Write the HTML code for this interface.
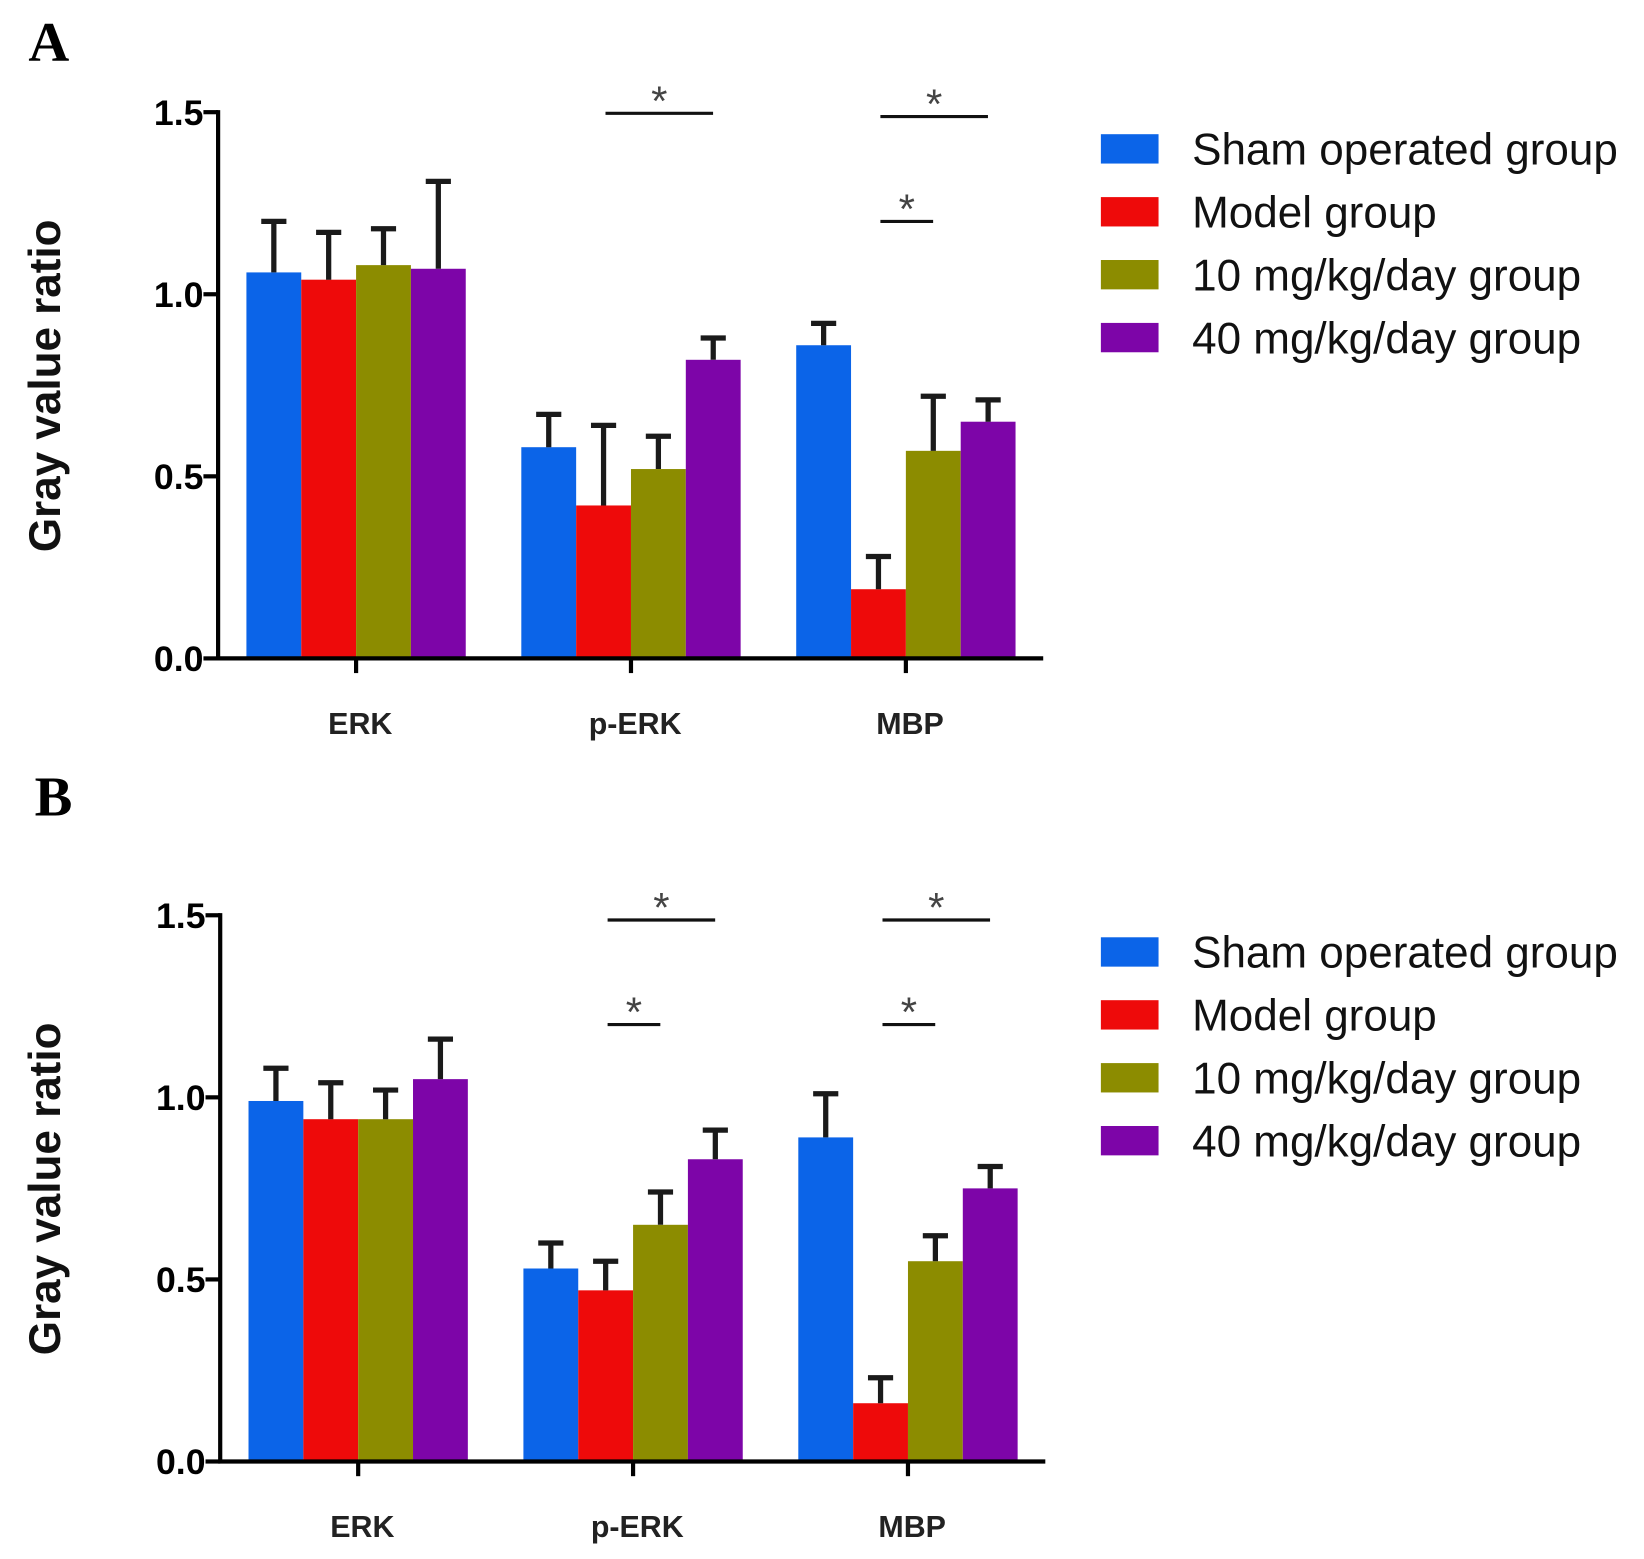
<!DOCTYPE html>
<html><head><meta charset="utf-8">
<style>
html,body{margin:0;padding:0;background:#fff;}
svg{display:block;}
</style></head>
<body>
<svg id="chart" width="1644" height="1559" viewBox="0 0 1568 1487" xmlns="http://www.w3.org/2000/svg" font-family="Liberation Sans, sans-serif">
</svg>
<script>
const categories = ["ERK", "p-ERK", "MBP"];
const groups = ["Sham operated group", "Model group", "10 mg/kg/day group", "40 mg/kg/day group"];
const colors = ["#0b64e8", "#ee0a0a", "#8c8c00", "#7d05a8"];
const yTicks = [0, 0.5, 1.0, 1.5];
const yTickLabels = ["0.0", "0.5", "1.0", "1.5"];
// panel A: [category][group]
const meansA = [[1.06, 1.04, 1.08, 1.07], [0.58, 0.42, 0.52, 0.82], [0.86, 0.19, 0.57, 0.65]];
const errTopA = [[1.20, 1.17, 1.18, 1.31], [0.67, 0.64, 0.61, 0.88], [0.92, 0.28, 0.72, 0.71]];
const meansB = [[0.99, 0.94, 0.94, 1.05], [0.53, 0.47, 0.65, 0.83], [0.89, 0.16, 0.55, 0.75]];
const errTopB = [[1.08, 1.04, 1.02, 1.16], [0.60, 0.55, 0.74, 0.91], [1.01, 0.23, 0.62, 0.81]];
// significance brackets: [category index, first group, last group, y value]
const sigA = [[1, 1, 3, 1.497], [2, 1, 3, 1.488], [2, 1, 2, 1.2]];
const sigB = [[1, 1, 3, 1.487], [1, 1, 2, 1.2], [2, 1, 3, 1.487], [2, 1, 2, 1.2]];

const NS = "http://www.w3.org/2000/svg";
const svg = document.getElementById("chart");
function mk(tag, attrs, parent) {
  const e = document.createElementNS(NS, tag);
  for (const k in attrs) e.setAttribute(k, attrs[k]);
  (parent || svg).appendChild(e);
  return e;
}

function panel(letter, top, axisX, means, errTop, sig, legTop, letterX, letterY) {
  const g = mk("g", {});
  
  
  const y0 = top + 521, y15 = top;
  const y = v => y0 - (v / 1.5) * (y0 - y15);
  const bw = 52.3, gs = 262.2, x0 = axisX + 27;
  const bx = (c, s) => x0 + c * gs + s * bw;

  const L = mk("text", {x: letterX, y: letterY, "font-family": "Liberation Serif, serif", "font-weight": "bold", "font-size": "54"}, g);
  L.textContent = letter;
  
  

  for (let c = 0; c < categories.length; c++) {
    for (let s = 0; s < groups.length; s++) {
      const r = mk("rect", {x: bx(c, s), y: y(means[c][s]), width: bw, height: y0 - y(means[c][s]), fill: colors[s]}, g);
      
      
      const cx = bx(c, s) + bw / 2;
      const e = mk("path", {d: `M${cx},${y(means[c][s])}V${y(errTop[c][s])}M${cx - 12},${y(errTop[c][s])}H${cx + 12}`, stroke: "#1a1a1a", "stroke-width": "5", fill: "none"}, g);
      
      
    }
  }
  const ax = mk("path", {d: `M${axisX},${y15 - 2}V${y0}H${axisX + 787}`, stroke: "#000", "stroke-width": "4", fill: "none"}, g);
  
  
  yTicks.forEach((t, i) => {
    mk("line", {x1: axisX - 14, x2: axisX, y1: y(t), y2: y(t), stroke: "#000", "stroke-width": "4"}, g);
    const tl = mk("text", {x: axisX - 14, y: y(t) + 12, "text-anchor": "end", "font-weight": "bold", "font-size": "34"}, g);
    tl.textContent = yTickLabels[i];
    
    
  });
  categories.forEach((cat, c) => {
    const cx = bx(c, 2);
    mk("line", {x1: cx, x2: cx, y1: y0, y2: y0 + 14, stroke: "#000", "stroke-width": "4"}, g);
    const ct = mk("text", {x: cx + 4, y: y0 + 72, "text-anchor": "middle", "font-weight": "bold", "font-size": "29", fill: "#222"}, g);
    ct.textContent = cat;
    
    
  });
  const yt = mk("text", {transform: `translate(57,${top + 261}) rotate(-90)`, "text-anchor": "middle", "font-weight": "bold", "font-size": "42", fill: "#111"}, g);
  yt.textContent = "Gray value ratio";
  
  
  sig.forEach(sg => {
    const xa = bx(sg[0], sg[1]) + 28, xb = bx(sg[0], sg[2]) + 26;
    const ly = y(sg[3]);
    const ln = mk("line", {x1: xa, x2: xb, y1: ly, y2: ly, stroke: "#111", "stroke-width": "3"}, g);
    
    
    const st = mk("text", {x: (xa + xb) / 2, y: ly + 2, "text-anchor": "middle", "font-size": "40", fill: "#444"}, g);
    st.textContent = "*";
    
    
  });
  groups.forEach((name, s) => {
    const cy = legTop + s * 60;
    const sw = mk("rect", {x: 1050, y: cy - 14, width: 55, height: 28, fill: colors[s]}, g);
    
    
    const lt = mk("text", {x: 1137, y: cy + 15, "font-size": "42", fill: "#111"}, g);
    lt.textContent = name;
    
    
  });
}
panel("A", 107, 208, meansA, errTopA, sigA, 142, 27, 58);
panel("B", 873, 210, meansB, errTopB, sigB, 908, 33, 778);
</script>
</body></html>
